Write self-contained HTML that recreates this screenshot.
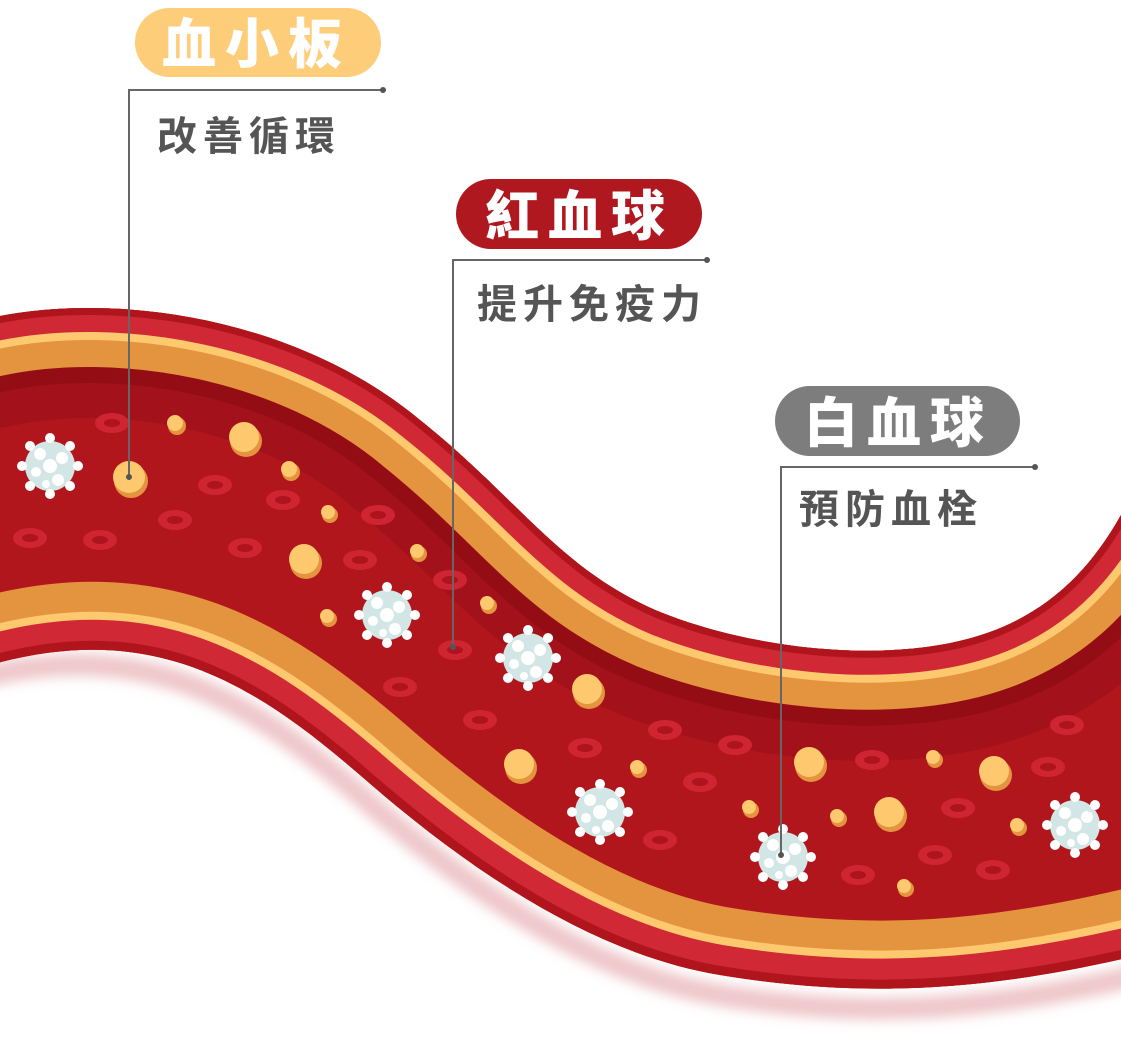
<!DOCTYPE html>
<html><head><meta charset="utf-8"><style>
html,body{margin:0;padding:0;background:#fff;}
svg{display:block;}
.pl{font-family:"Liberation Sans","Noto Sans CJK TC",sans-serif;font-weight:900;fill:#fff;font-size:54px;letter-spacing:9px;}
.sub{font-family:"Liberation Sans","Noto Sans CJK TC",sans-serif;font-weight:700;fill:#555;font-size:40px;letter-spacing:6px;}
</style></head><body>
<svg width="1121" height="1054" viewBox="0 0 1121 1054" xmlns="http://www.w3.org/2000/svg">
<defs>
<path id="up" d="M-90 332 L-10 318 C 120 290, 300 320, 420 420 C 520 500, 560 570, 660 612 C 760 652, 900 665, 990 632 C 1050 610, 1090 570, 1121 515 L1160 480"/>
<path id="lo" d="M-90 690 L-10 665 C 150 620, 250 680, 360 775 C 480 880, 600 955, 720 975 C 870 1000, 1000 990, 1160 950"/>
<path id="band" d="M-90 332 L-10 318 C 120 290, 300 320, 420 420 C 520 500, 560 570, 660 612 C 760 652, 900 665, 990 632 C 1050 610, 1090 570, 1121 515 L1160 480 L1160 950 C 1000 990, 870 1000, 720 975 C 600 955, 480 880, 360 775 C 250 680, 150 620, -10 665 L-90 690 Z"/>
<clipPath id="cb"><use href="#band"/></clipPath>
<filter id="blur"><feGaussianBlur stdDeviation="6"/></filter>
<g id="wbc">
<circle r="25" fill="#d3e6e6"/>
<g fill="#fff">
<circle cx="0" cy="-28" r="5"/><circle cx="20" cy="-20" r="5"/><circle cx="28" cy="0" r="5"/><circle cx="20" cy="20" r="5"/>
<circle cx="0" cy="28" r="5"/><circle cx="-20" cy="20" r="5"/><circle cx="-28" cy="0" r="5"/><circle cx="-20" cy="-20" r="5"/>
<circle cx="0" cy="0" r="7"/><circle cx="-10" cy="-12" r="6"/><circle cx="12" cy="-8" r="6"/><circle cx="-14" cy="6" r="5"/><circle cx="8" cy="14" r="6"/><circle cx="-4" cy="18" r="4"/>
</g></g>
<g id="rbc"><ellipse rx="17" ry="10" fill="#cf2533"/><ellipse rx="8" ry="4" fill="#ad141d"/></g>
</defs>
<path d="M-90 700 L-10 675 C 150 640, 250 700, 360 795 C 480 900, 600 975, 720 995 C 870 1020, 1000 1010, 1160 970" fill="none" stroke="#eab8bc" stroke-width="22" filter="url(#blur)" opacity="0.8"/>
<use href="#band" fill="#b0161c"/>
<g clip-path="url(#cb)" fill="none">
<use href="#up" stroke="#a3121a" stroke-width="220"/>
<use href="#up" stroke="#950d14" stroke-width="150"/>
<use href="#up" stroke="#e4933f" stroke-width="118"/>
<use href="#up" stroke="#fdc86e" stroke-width="64"/>
<use href="#up" stroke="#d02834" stroke-width="48"/>
<use href="#up" stroke="#b0141c" stroke-width="14"/>
<use href="#lo" stroke="#e4933f" stroke-width="136"/>
<use href="#lo" stroke="#fdc86e" stroke-width="76"/>
<use href="#lo" stroke="#d02834" stroke-width="60"/>
<use href="#lo" stroke="#b0141c" stroke-width="18"/>
</g>
<g>
<use href="#rbc" x="112" y="423"/><use href="#rbc" x="215" y="485"/><use href="#rbc" x="175" y="520"/><use href="#rbc" x="283" y="500"/>
<use href="#rbc" x="378" y="515"/><use href="#rbc" x="100" y="540"/><use href="#rbc" x="30" y="538"/><use href="#rbc" x="245" y="548"/>
<use href="#rbc" x="360" y="560"/><use href="#rbc" x="450" y="580"/><use href="#rbc" x="455" y="650"/><use href="#rbc" x="400" y="687"/>
<use href="#rbc" x="480" y="720"/><use href="#rbc" x="585" y="748"/><use href="#rbc" x="665" y="730"/><use href="#rbc" x="735" y="745"/>
<use href="#rbc" x="700" y="782"/><use href="#rbc" x="660" y="840"/><use href="#rbc" x="872" y="760"/><use href="#rbc" x="958" y="808"/>
<use href="#rbc" x="935" y="855"/><use href="#rbc" x="858" y="875"/><use href="#rbc" x="993" y="870"/><use href="#rbc" x="1067" y="725"/><use href="#rbc" x="1048" y="767"/>
</g>
<g>
<g fill="#e4933f">
<circle cx="131" cy="481" r="17"/><circle cx="177" cy="426" r="9"/><circle cx="246" cy="441" r="16"/><circle cx="291" cy="472" r="9"/>
<circle cx="330" cy="515" r="8"/><circle cx="306" cy="563" r="16"/><circle cx="419" cy="554" r="8"/><circle cx="489" cy="606" r="8"/>
<circle cx="329" cy="619" r="8"/><circle cx="589" cy="693" r="16"/><circle cx="521" cy="768" r="16"/><circle cx="639" cy="770" r="8"/>
<circle cx="751" cy="810" r="8"/><circle cx="811" cy="766" r="16"/><circle cx="935" cy="760" r="8"/><circle cx="996" cy="775" r="16"/>
<circle cx="891" cy="816" r="16"/><circle cx="839" cy="819" r="8"/><circle cx="1019" cy="828" r="8"/><circle cx="906" cy="889" r="8"/>
</g>
<g fill="#fdc86e">
<circle cx="129" cy="477" r="16"/><circle cx="175" cy="423" r="8"/><circle cx="244" cy="437" r="15"/><circle cx="289" cy="469" r="8"/>
<circle cx="328" cy="512" r="7"/><circle cx="304" cy="559" r="15"/><circle cx="417" cy="551" r="7"/><circle cx="487" cy="603" r="7"/>
<circle cx="327" cy="616" r="7"/><circle cx="587" cy="689" r="15"/><circle cx="519" cy="764" r="15"/><circle cx="637" cy="767" r="7"/>
<circle cx="749" cy="807" r="7"/><circle cx="809" cy="762" r="15"/><circle cx="933" cy="757" r="7"/><circle cx="994" cy="771" r="15"/>
<circle cx="889" cy="812" r="15"/><circle cx="837" cy="816" r="7"/><circle cx="1017" cy="825" r="7"/><circle cx="904" cy="886" r="7"/>
</g></g>
<use href="#wbc" x="50" y="466"/><use href="#wbc" x="387" y="615"/><use href="#wbc" x="528" y="658"/>
<use href="#wbc" x="600" y="812"/><use href="#wbc" x="783" y="857"/><use href="#wbc" x="1075" y="825"/>
<rect x="135" y="8" width="246" height="69" rx="34.5" fill="#fdcd7a"/>
<text class="pl" x="162" y="63">血小板</text>
<rect x="456" y="179" width="246" height="70" rx="35" fill="#b0181f"/>
<text class="pl" x="485" y="235">紅血球</text>
<rect x="775" y="386" width="245" height="70" rx="35" fill="#7d7d7d"/>
<text class="pl" x="804" y="442">白血球</text>
<g stroke="#666" stroke-width="2" fill="none">
<path d="M383 90 H129 V477"/>
<path d="M707 260 H453 V647"/>
<path d="M1035 467 H781 V855"/>
</g>
<g fill="#555">
<circle cx="383" cy="90" r="3"/><circle cx="707" cy="260" r="3"/><circle cx="1035" cy="467" r="3"/>
<circle cx="129" cy="477" r="3"/><circle cx="453" cy="647" r="3"/><circle cx="781" cy="855" r="3"/>
</g>
<text class="sub" x="157" y="150">改善循環</text>
<text class="sub" x="477" y="318">提升免疫力</text>
<text class="sub" x="799" y="523">預防血栓</text>
</svg>
</body></html>
